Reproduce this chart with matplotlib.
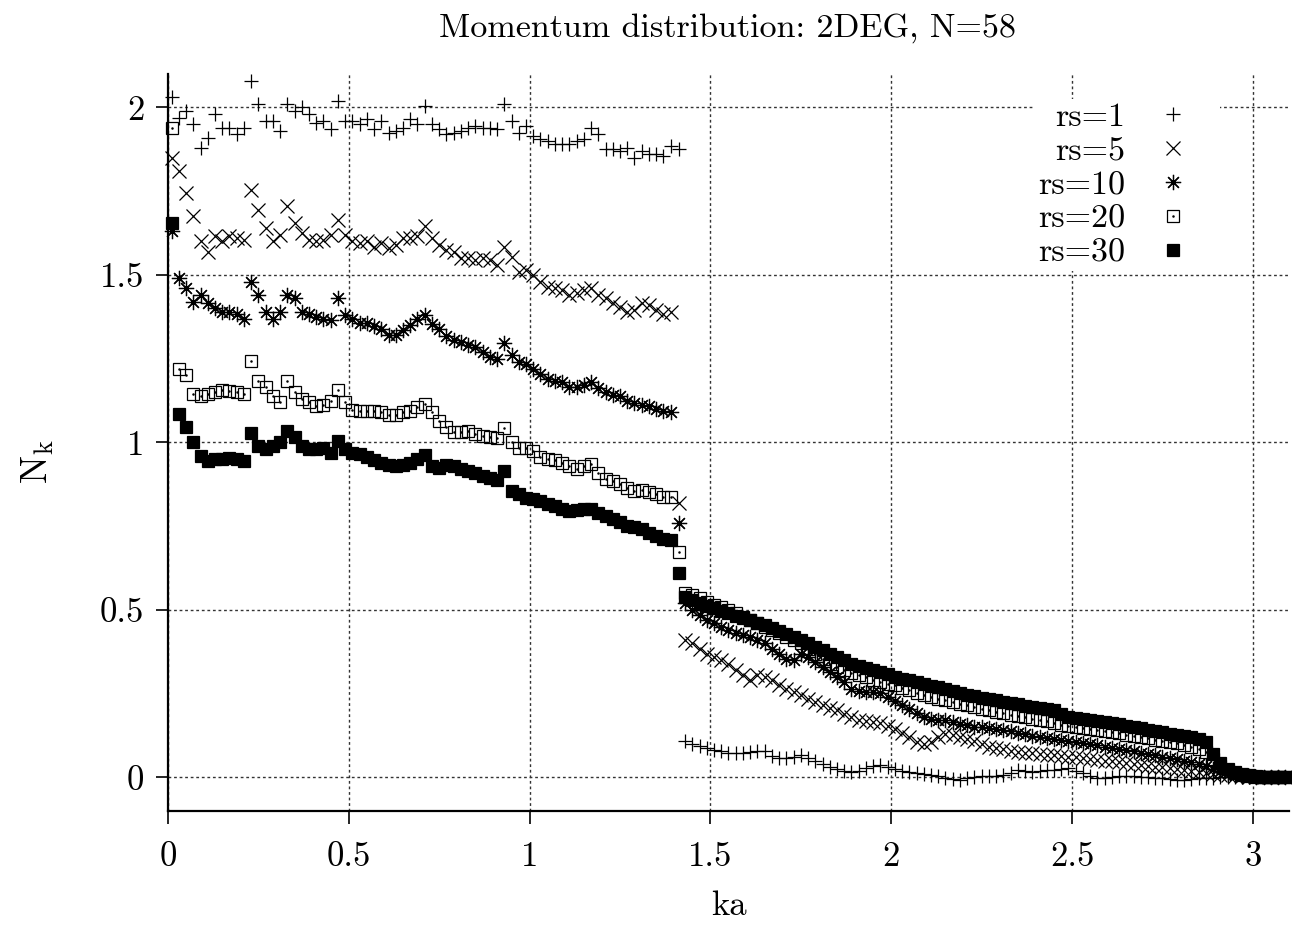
import numpy as np
import matplotlib
matplotlib.use('Agg')
import matplotlib.pyplot as plt

plt.rcParams['font.family'] = ['cmr10', 'DejaVu Sans']
plt.rcParams['mathtext.fontset'] = 'cm'
plt.rcParams['axes.unicode_minus'] = False

# sampling of ka below and above the Fermi jump
ka_low = np.round(np.arange(0.01, 1.40, 0.02), 2)
ka_edge = 1.413
ka_high = np.round(np.arange(1.43, 3.10, 0.02), 2)

labels = ['rs=1', 'rs=5', 'rs=10', 'rs=20', 'rs=30']

rs1_low = [2.03, 1.97, 1.99, 1.95, 1.88, 1.91, 1.98, 1.94, 1.94, 1.92,
           1.94, 2.08, 2.01, 1.96, 1.96, 1.93, 2.01, 1.99, 2.00, 1.98,
           1.955, 1.96, 1.935, 2.02, 1.96, 1.96, 1.95, 1.965, 1.935, 1.96,
           1.925, 1.93, 1.94, 1.965, 1.95, 2.005, 1.95, 1.935, 1.92, 1.925,
           1.93, 1.94, 1.945, 1.94, 1.94, 1.935, 2.01, 1.96, 1.925, 1.945,
           1.915, 1.905, 1.90, 1.89, 1.89, 1.89, 1.90, 1.905, 1.94, 1.92,
           1.875, 1.875, 1.87, 1.88, 1.85, 1.87, 1.86, 1.86, 1.855, 1.885]
rs5_low = [1.85, 1.81, 1.745, 1.675, 1.60, 1.57, 1.615, 1.60, 1.615, 1.61,
           1.605, 1.755, 1.695, 1.64, 1.60, 1.62, 1.705, 1.655, 1.625, 1.605,
           1.60, 1.605, 1.62, 1.665, 1.62, 1.60, 1.595, 1.60, 1.585, 1.595,
           1.58, 1.59, 1.61, 1.61, 1.615, 1.645, 1.61, 1.59, 1.575, 1.57,
           1.55, 1.55, 1.545, 1.55, 1.545, 1.53, 1.585, 1.555, 1.51, 1.515,
           1.50, 1.48, 1.465, 1.46, 1.455, 1.44, 1.445, 1.455, 1.46, 1.44,
           1.43, 1.415, 1.405, 1.39, 1.395, 1.415, 1.41, 1.395, 1.385, 1.39]
rs10_low = [1.63, 1.49, 1.46, 1.42, 1.44, 1.415, 1.40, 1.39, 1.39, 1.385,
            1.37, 1.48, 1.44, 1.39, 1.37, 1.39, 1.44, 1.43, 1.39, 1.385,
            1.375, 1.37, 1.365, 1.43, 1.38, 1.37, 1.357, 1.357, 1.347, 1.34,
            1.322, 1.322, 1.335, 1.35, 1.37, 1.38, 1.355, 1.34, 1.317, 1.305,
            1.30, 1.292, 1.285, 1.27, 1.255, 1.248, 1.297, 1.26, 1.24, 1.235,
            1.22, 1.205, 1.19, 1.185, 1.18, 1.165, 1.165, 1.173, 1.18, 1.163,
            1.15, 1.143, 1.14, 1.125, 1.118, 1.112, 1.11, 1.10, 1.093, 1.09]
rs20_low = [1.94, 1.22, 1.20, 1.145, 1.14, 1.145, 1.15, 1.158, 1.153, 1.15,
            1.145, 1.243, 1.185, 1.165, 1.14, 1.12, 1.183, 1.15, 1.13, 1.12,
            1.108, 1.113, 1.125, 1.158, 1.12, 1.098, 1.095, 1.095, 1.095, 1.092,
            1.083, 1.083, 1.09, 1.095, 1.105, 1.115, 1.09, 1.065, 1.045, 1.032,
            1.032, 1.033, 1.025, 1.02, 1.017, 1.013, 1.043, 1.00, 0.983, 0.983,
            0.975, 0.958, 0.952, 0.947, 0.94, 0.93, 0.922, 0.93, 0.935, 0.91,
            0.892, 0.884, 0.877, 0.865, 0.856, 0.859, 0.852, 0.845, 0.838, 0.838]
rs30_low = [1.655, 1.085, 1.045, 1.00, 0.96, 0.945, 0.95, 0.95, 0.955, 0.95,
            0.945, 1.028, 0.99, 0.98, 0.99, 1.00, 1.035, 1.015, 0.99, 0.98,
            0.98, 0.985, 0.97, 1.005, 0.98, 0.97, 0.965, 0.958, 0.948, 0.94,
            0.932, 0.93, 0.933, 0.94, 0.952, 0.962, 0.93, 0.925, 0.932, 0.93,
            0.922, 0.915, 0.908, 0.90, 0.894, 0.888, 0.914, 0.855, 0.845, 0.835,
            0.83, 0.825, 0.815, 0.81, 0.80, 0.795, 0.798, 0.802, 0.80, 0.79,
            0.782, 0.772, 0.764, 0.752, 0.747, 0.742, 0.73, 0.72, 0.712, 0.708]

edge_vals = [1.875, 0.82, 0.76, 0.674, 0.61]

rs1_high = [0.11, 0.10, 0.095, 0.088, 0.082, 0.078, 0.073, 0.072, 0.072, 0.075,
            0.08, 0.078, 0.064, 0.058, 0.057, 0.062, 0.066, 0.058, 0.05, 0.04,
            0.032, 0.024, 0.02, 0.017, 0.02, 0.027, 0.034, 0.037, 0.032, 0.026,
            0.019, 0.016, 0.013, 0.011, 0.008, 0.004, -0.002, -0.005, -0.006, -0.003,
            0.0, 0.003, 0.004, 0.005, 0.008, 0.014, 0.021, 0.02, 0.017, 0.018,
            0.021, 0.023, 0.026, 0.027, 0.02, 0.013, 0.004, -0.003, -0.001, 0.002,
            0.003, 0.004, 0.004, 0.002, 0.0, -0.003, -0.003, -0.004, -0.006, -0.008,
            -0.005, -0.003, -0.003, -0.002, 0.0, 0.001, 0.001, 0.0, 0.0, 0.0,
            0.0, 0.0, 0.0, 0.0]
rs5_high = [0.41, 0.40, 0.385, 0.37, 0.36, 0.35, 0.34, 0.32, 0.305, 0.29,
            0.305, 0.30, 0.29, 0.275, 0.265, 0.255, 0.245, 0.235, 0.225, 0.216,
            0.208, 0.20, 0.19, 0.18, 0.173, 0.17, 0.167, 0.163, 0.153, 0.145,
            0.132, 0.12, 0.106, 0.10, 0.105, 0.12, 0.13, 0.127, 0.121, 0.116,
            0.11, 0.10, 0.09, 0.087, 0.084, 0.08, 0.077, 0.074, 0.072, 0.07,
            0.068, 0.066, 0.064, 0.062, 0.06, 0.058, 0.055, 0.052, 0.05, 0.048,
            0.045, 0.042, 0.04, 0.037, 0.035, 0.032, 0.03, 0.027, 0.024, 0.021,
            0.018, 0.015, 0.012, 0.01, 0.008, 0.006, 0.004, 0.003, 0.002, 0.001,
            0.0, 0.0, 0.0, 0.0]
rs10_high = [0.52, 0.50, 0.485, 0.47, 0.46, 0.45, 0.44, 0.43, 0.425, 0.418,
             0.41, 0.40, 0.385, 0.37, 0.355, 0.35, 0.37, 0.36, 0.345, 0.33,
             0.315, 0.30, 0.285, 0.265, 0.258, 0.256, 0.254, 0.251, 0.24, 0.228,
             0.216, 0.205, 0.192, 0.182, 0.174, 0.171, 0.171, 0.166, 0.161, 0.156,
             0.151, 0.15, 0.148, 0.145, 0.142, 0.138, 0.134, 0.13, 0.125, 0.12,
             0.118, 0.115, 0.112, 0.11, 0.107, 0.103, 0.10, 0.096, 0.092, 0.088,
             0.085, 0.082, 0.078, 0.074, 0.07, 0.066, 0.062, 0.058, 0.054, 0.05,
             0.045, 0.04, 0.034, 0.026, 0.018, 0.012, 0.008, 0.005, 0.003, 0.002,
             0.001, 0.0, 0.0, 0.0]
rs20_high = [0.55, 0.545, 0.535, 0.525, 0.515, 0.51, 0.50, 0.49, 0.48, 0.47,
             0.46, 0.45, 0.44, 0.43, 0.42, 0.41, 0.40, 0.385, 0.37, 0.355,
             0.34, 0.33, 0.32, 0.312, 0.305, 0.30, 0.29, 0.285, 0.28, 0.275,
             0.268, 0.26, 0.253, 0.247, 0.24, 0.235, 0.23, 0.225, 0.22, 0.215,
             0.21, 0.205, 0.20, 0.196, 0.192, 0.188, 0.184, 0.18, 0.176, 0.172,
             0.168, 0.163, 0.158, 0.155, 0.152, 0.149, 0.146, 0.143, 0.14, 0.136,
             0.132, 0.128, 0.124, 0.12, 0.117, 0.113, 0.11, 0.106, 0.102, 0.098,
             0.092, 0.085, 0.075, 0.055, 0.035, 0.02, 0.012, 0.007, 0.004, 0.002,
             0.001, 0.0, 0.0, 0.0]
rs30_high = [0.54, 0.53, 0.52, 0.512, 0.505, 0.498, 0.49, 0.482, 0.477, 0.47,
             0.462, 0.455, 0.447, 0.437, 0.428, 0.42, 0.41, 0.40, 0.39, 0.38,
             0.37, 0.36, 0.35, 0.34, 0.333, 0.326, 0.32, 0.315, 0.308, 0.30,
             0.295, 0.29, 0.284, 0.278, 0.274, 0.27, 0.265, 0.258, 0.252, 0.246,
             0.242, 0.238, 0.234, 0.23, 0.226, 0.222, 0.218, 0.214, 0.21, 0.206,
             0.203, 0.20, 0.19, 0.18, 0.178, 0.175, 0.172, 0.169, 0.166, 0.163,
             0.159, 0.155, 0.151, 0.147, 0.143, 0.139, 0.135, 0.131, 0.127, 0.124,
             0.12, 0.115, 0.105, 0.07, 0.042, 0.025, 0.015, 0.009, 0.006, 0.004,
             0.002, 0.001, 0.0, 0.0]

lows = [rs1_low, rs5_low, rs10_low, rs20_low, rs30_low]
highs = [rs1_high, rs5_high, rs10_high, rs20_high, rs30_high]

fig = plt.figure(figsize=(12.92, 9.26), dpi=100)
ax = fig.add_axes([0.1300, 0.1242, 0.8677, 0.7959])

ka = np.concatenate([ka_low, [ka_edge], ka_high])
styles = [dict(marker='+', ms=10.5, mew=0.9),
          dict(marker='x', ms=10, mew=0.9),
          dict(marker=(8, 2, 0), ms=11, mew=0.9),
          dict(marker='s', ms=9.3, mew=0.9, mfc='none'),
          dict(marker='s', ms=9.3, mew=0.9, mfc='black')]

handles = []
for lab, lo, ed, hi, st in zip(labels, lows, edge_vals, highs, styles):
    nk = np.concatenate([lo, [ed], hi])
    h, = ax.plot(ka, nk, ls='none', color='black', mec='black', clip_on=False, **st)
    if lab == 'rs=20':
        d, = ax.plot(ka, nk, ls='none', marker='.', ms=1.6, color='black', clip_on=False)
        h = (h, d)
    handles.append(h)

ax.set_xlim(0, 3.1)
ax.set_ylim(-0.1, 2.1)
ax.set_xticks([0, 0.5, 1, 1.5, 2, 2.5, 3])
ax.set_xticklabels(['0', '0.5', '1', '1.5', '2', '2.5', '3'])
ax.set_yticks([0, 0.5, 1, 1.5, 2])
ax.set_yticklabels(['0', '0.5', '1', '1.5', '2'])
ax.tick_params(direction='out', length=9, width=1.2, labelsize=25)
ax.tick_params(axis='x', pad=13)
ax.tick_params(axis='y', pad=8)

for s in ['top', 'right']:
    ax.spines[s].set_visible(False)
for s in ['left', 'bottom']:
    ax.spines[s].set_linewidth(1.6)

ax.set_axisbelow(True)
ax.grid(True, ls=(0, (2, 2)), lw=1.0, color='#333333')

ax.set_xlabel('ka', fontsize=25)
ax.xaxis.set_label_coords(0.5, -0.129)
ax.xaxis.label.set_va('center')
ax.set_ylabel(r'$\mathrm{N_k}$', fontsize=27)
ax.yaxis.set_label_coords(-0.116, 0.475)
ax.yaxis.label.set_va('center')

fig.text(728 / 1292, 1 - 28 / 926, 'Momentum distribution: 2DEG, N=58',
         ha='center', va='center', fontsize=24.5)

leg = ax.legend(handles, labels, loc='upper right', markerfirst=False,
                bbox_to_anchor=(1220 / 1292, 1 - 99 / 926),
                bbox_transform=fig.transFigure, borderaxespad=0,
                fontsize=24.5, handlelength=2.56, handletextpad=0.13,
                borderpad=0.1, labelspacing=0.12, frameon=True,
                fancybox=False, framealpha=1, facecolor='white', edgecolor='none')

fig.savefig('out.png', dpi=100)
